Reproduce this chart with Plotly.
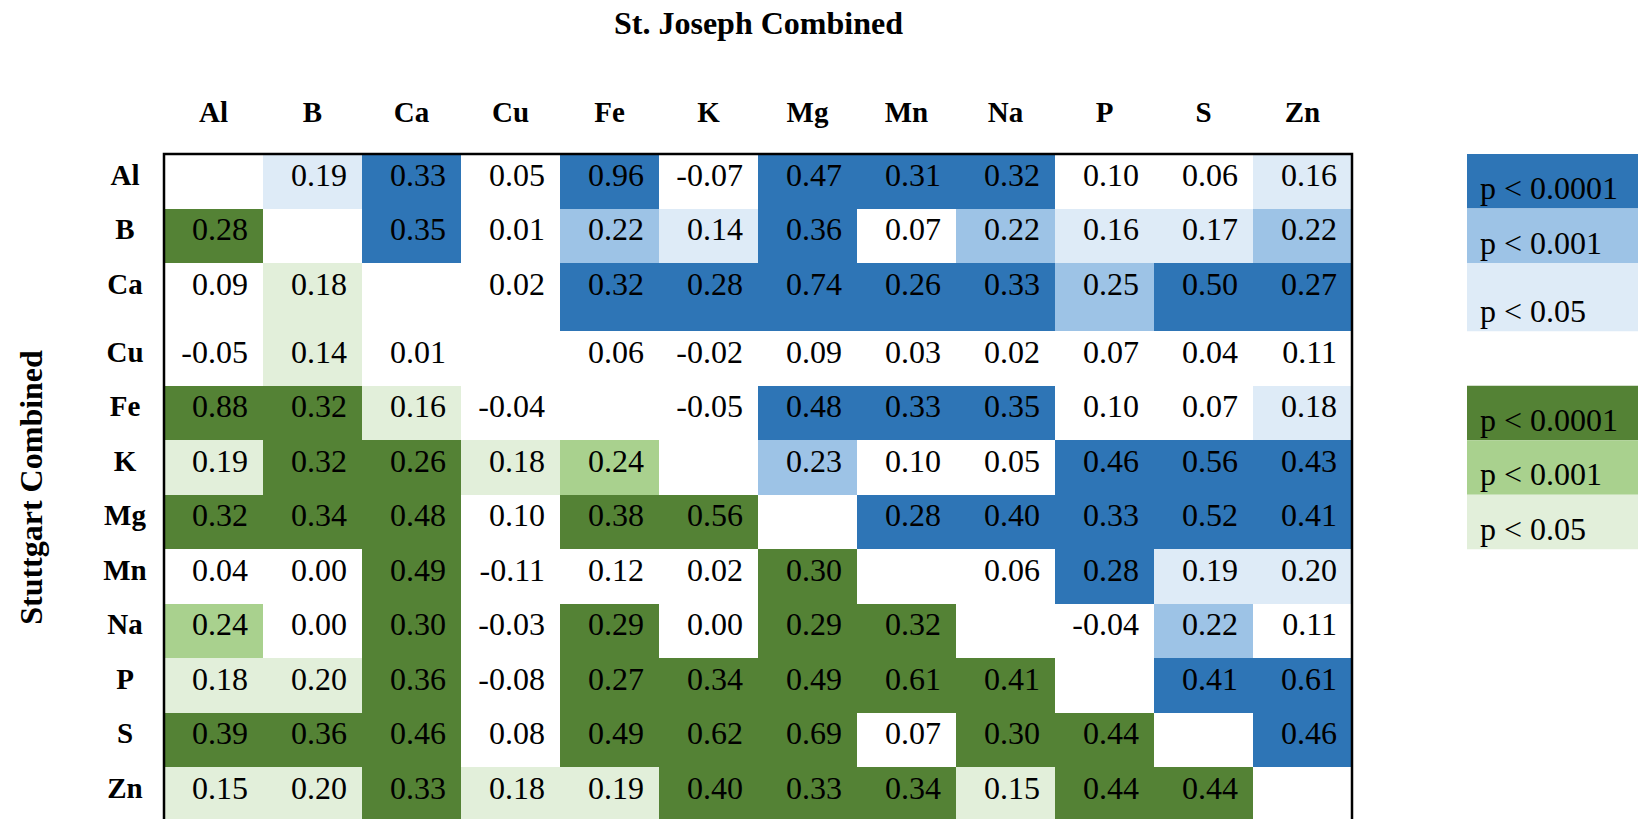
import plotly.graph_objects as go

# ---------------- data ----------------
elements = ["Al", "B", "Ca", "Cu", "Fe", "K", "Mg", "Mn", "Na", "P", "S", "Zn"]

# correlation coefficients; upper triangle = St. Joseph Combined, lower = Stuttgart Combined
r_Al = [None, 0.19, 0.33, 0.05, 0.96, -0.07, 0.47, 0.31, 0.32, 0.10, 0.06, 0.16]
r_B  = [0.28, None, 0.35, 0.01, 0.22, 0.14, 0.36, 0.07, 0.22, 0.16, 0.17, 0.22]
r_Ca = [0.09, 0.18, None, 0.02, 0.32, 0.28, 0.74, 0.26, 0.33, 0.25, 0.50, 0.27]
r_Cu = [-0.05, 0.14, 0.01, None, 0.06, -0.02, 0.09, 0.03, 0.02, 0.07, 0.04, 0.11]
r_Fe = [0.88, 0.32, 0.16, -0.04, None, -0.05, 0.48, 0.33, 0.35, 0.10, 0.07, 0.18]
r_K  = [0.19, 0.32, 0.26, 0.18, 0.24, None, 0.23, 0.10, 0.05, 0.46, 0.56, 0.43]
r_Mg = [0.32, 0.34, 0.48, 0.10, 0.38, 0.56, None, 0.28, 0.40, 0.33, 0.52, 0.41]
r_Mn = [0.04, 0.00, 0.49, -0.11, 0.12, 0.02, 0.30, None, 0.06, 0.28, 0.19, 0.20]
r_Na = [0.24, 0.00, 0.30, -0.03, 0.29, 0.00, 0.29, 0.32, None, -0.04, 0.22, 0.11]
r_P  = [0.18, 0.20, 0.36, -0.08, 0.27, 0.34, 0.49, 0.61, 0.41, None, 0.41, 0.61]
r_S  = [0.39, 0.36, 0.46, 0.08, 0.49, 0.62, 0.69, 0.07, 0.30, 0.44, None, 0.46]
r_Zn = [0.15, 0.20, 0.33, 0.18, 0.19, 0.40, 0.33, 0.34, 0.15, 0.44, 0.44, None]

# significance level: 0 = n.s., 1 = p<0.05, 2 = p<0.001, 3 = p<0.0001
s_Al = [0, 1, 3, 0, 3, 0, 3, 3, 3, 0, 0, 1]
s_B  = [3, 0, 3, 0, 2, 1, 3, 0, 2, 1, 1, 2]
s_Ca = [0, 1, 0, 0, 3, 3, 3, 3, 3, 2, 3, 3]
s_Cu = [0, 1, 0, 0, 0, 0, 0, 0, 0, 0, 0, 0]
s_Fe = [3, 3, 1, 0, 0, 0, 3, 3, 3, 0, 0, 1]
s_K  = [1, 3, 3, 1, 2, 0, 2, 0, 0, 3, 3, 3]
s_Mg = [3, 3, 3, 0, 3, 3, 0, 3, 3, 3, 3, 3]
s_Mn = [0, 0, 3, 0, 0, 0, 3, 0, 0, 3, 1, 1]
s_Na = [2, 0, 3, 0, 3, 0, 3, 3, 0, 0, 2, 0]
s_P  = [1, 1, 3, 0, 3, 3, 3, 3, 3, 0, 3, 3]
s_S  = [3, 3, 3, 0, 3, 3, 3, 0, 3, 3, 0, 3]
s_Zn = [1, 1, 3, 1, 1, 3, 3, 3, 1, 3, 3, 0]

legend_labels = ["p < 0.0001", "p < 0.001", "p < 0.05"]
title_top = "St. Joseph Combined"
title_left = "Stuttgart Combined"

r_rows = [r_Al, r_B, r_Ca, r_Cu, r_Fe, r_K, r_Mg, r_Mn, r_Na, r_P, r_S, r_Zn]
s_rows = [s_Al, s_B, s_Ca, s_Cu, s_Fe, s_K, s_Mg, s_Mn, s_Na, s_P, s_S, s_Zn]

# ---------------- styling / layout ----------------
W, H = 1646, 819
PAGE_OFF = 8  # default body margin of the html page
TABLE_LEFT, TABLE_TOP = 164 - PAGE_OFF, 154 - PAGE_OFF
COL_PX, ROW_PX = 99, 54.5
row_heights = [1, 1, 1.25, 1, 1, 1, 1, 1, 1, 1, 1, 1]

BLUES = ["#FFFFFF", "#DEEBF7", "#9DC3E6", "#2E75B6"]
GREENS = ["#FFFFFF", "#E2EFDA", "#A9D18E", "#548235"]
FONT = "Times New Roman, Liberation Serif, serif"

n = len(elements)
y_edges = [0.0]
for h in row_heights:
    y_edges.append(y_edges[-1] + h)
x_edges = list(range(n + 1))

# category index: 0 white, 1-3 blue levels, 4-6 green levels
z = []
for i in range(n):
    row = []
    for j in range(n):
        lev = s_rows[i][j]
        if i == j or lev == 0:
            row.append(0)
        elif j > i:
            row.append(lev)
        else:
            row.append(3 + lev)
    z.append(row)

palette = [BLUES[0], BLUES[1], BLUES[2], BLUES[3], GREENS[1], GREENS[2], GREENS[3]]
ncat = len(palette)
colorscale = []
for k, c in enumerate(palette):
    colorscale.append([k / ncat, c])
    colorscale.append([(k + 1) / ncat, c])

fig = go.Figure()
fig.add_trace(go.Heatmap(
    z=z, x=x_edges, y=y_edges, colorscale=colorscale,
    zmin=-0.5, zmax=ncat - 0.5, showscale=False, hoverinfo="skip",
    xgap=0, ygap=0,
))

px_x = 1 / COL_PX
px_y = 1 / ROW_PX


def ux(page_px):
    return (page_px - PAGE_OFF - TABLE_LEFT) * px_x


def uy(page_px):
    return (page_px - PAGE_OFF - TABLE_TOP) * px_y


TEXT_DY = 23.5  # px below the row top

# value texts (right-aligned near the top of each cell)
tx, ty, tt = [], [], []
for i in range(n):
    for j in range(n):
        v = r_rows[i][j]
        if v is None:
            continue
        tx.append(j + 1 - 15 * px_x)
        ty.append(y_edges[i] + TEXT_DY * px_y)
        tt.append(f"{v:.2f}")
fig.add_trace(go.Scatter(
    x=tx, y=ty, text=tt, mode="text", textposition="middle left",
    textfont=dict(family=FONT, size=32, color="black"), hoverinfo="skip",
    showlegend=False,
))

# column headers
fig.add_trace(go.Scatter(
    x=[j + 0.5 for j in range(n)], y=[uy(115)] * n, text=elements,
    mode="text", textposition="middle center",
    textfont=dict(family=FONT, size=29, color="black", weight="bold"),
    hoverinfo="skip", showlegend=False,
))
# row headers
fig.add_trace(go.Scatter(
    x=[ux(125)] * n, y=[y_edges[i] + TEXT_DY * px_y for i in range(n)],
    text=elements, mode="text", textposition="middle center",
    textfont=dict(family=FONT, size=29, color="black", weight="bold"),
    hoverinfo="skip", showlegend=False,
))

# legend blocks (aligned with table rows)
LEG_X0 = ux(1467)
LEG_X1 = ux(W + 30)
shapes = []
legend_rows_blue = [0, 1, 2]
legend_rows_green = [4, 5, 6]
leg_tx, leg_ty, leg_tt = [], [], []
for k, (rb, rg) in enumerate(zip(legend_rows_blue, legend_rows_green)):
    for r, pal in ((rb, BLUES), (rg, GREENS)):
        shapes.append(dict(type="rect", xref="x", yref="y", x0=LEG_X0, x1=LEG_X1,
                           y0=y_edges[r], y1=y_edges[r + 1], fillcolor=pal[3 - k],
                           line=dict(width=0), layer="below"))
        leg_tx.append(ux(1480))
        leg_ty.append(y_edges[r + 1] - 17.5 * px_y)
        leg_tt.append(legend_labels[k])
fig.add_trace(go.Scatter(
    x=leg_tx, y=leg_ty, text=leg_tt, mode="text", textposition="middle right",
    textfont=dict(family=FONT, size=32, color="black"), hoverinfo="skip",
    showlegend=False,
))

# table border
shapes.append(dict(type="rect", xref="x", yref="y", x0=0, x1=n, y0=0, y1=y_edges[-1],
                   line=dict(color="black", width=2.5), fillcolor="rgba(0,0,0,0)", layer="above"))

annotations = [
    dict(text=f"<b>{title_top}</b>", x=n / 2, y=uy(23), xref="x", yref="y",
         showarrow=False, font=dict(family=FONT, size=32, color="black"),
         xanchor="center", yanchor="middle"),
    dict(text=f"<b>{title_left}</b>", x=ux(31), y=y_edges[-1] / 2,
         xref="x", yref="y", showarrow=False, textangle=-90,
         font=dict(family=FONT, size=32, color="black"), xanchor="center", yanchor="middle"),
]

fig.update_layout(
    width=W, height=H, margin=dict(l=0, r=0, t=0, b=0),
    paper_bgcolor="white", plot_bgcolor="white",
    xaxis=dict(range=[-TABLE_LEFT * px_x, (W - TABLE_LEFT) * px_x], visible=False,
               fixedrange=True, domain=[0, 1]),
    yaxis=dict(range=[(H - TABLE_TOP) * px_y, -TABLE_TOP * px_y], visible=False,
               fixedrange=True, domain=[0, 1]),
    shapes=shapes, annotations=annotations, showlegend=False,
)

fig.write_html("out.html")
